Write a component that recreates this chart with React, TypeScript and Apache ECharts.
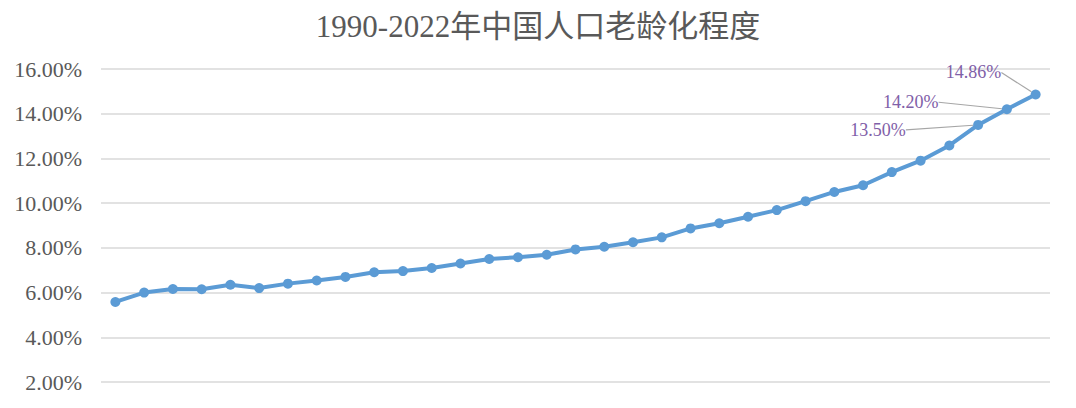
import React, { useEffect, useRef } from "react";
import * as echarts from "echarts";

const years: string[] = [
  "1990", "1991", "1992", "1993", "1994", "1995", "1996", "1997", "1998", "1999",
  "2000", "2001", "2002", "2003", "2004", "2005", "2006", "2007", "2008", "2009",
  "2010", "2011", "2012", "2013", "2014", "2015", "2016", "2017", "2018", "2019",
  "2020", "2021", "2022",
];

const agingRate: number[] = [
  5.58, 6.0, 6.16, 6.15, 6.35, 6.2, 6.4, 6.54, 6.7, 6.91,
  6.96, 7.1, 7.3, 7.5, 7.58, 7.69, 7.93, 8.05, 8.25, 8.47,
  8.87, 9.1, 9.39, 9.69, 10.09, 10.5, 10.8, 11.39, 11.9, 12.58,
  13.5, 14.2, 14.86,
];

const labeledIndices: number[] = [30, 31, 32];

const yTicks = { min: 2, max: 16, interval: 2 };

export default function App() {
  const ref = useRef<HTMLDivElement>(null);

  useEffect(() => {
    if (!ref.current) return;
    const chart = echarts.init(ref.current, null, { renderer: "svg" });
    const offsets: Record<number, [number, number]> = {
      30: [-100, 5],
      31: [-96, -7],
      32: [-62, -22],
    };
    chart.setOption({
      animation: false,
      backgroundColor: "#ffffff",
      title: {
        text: "1990-2022年中国人口老龄化程度",
        left: "center",
        top: 6,
        textStyle: {
          fontFamily: "'Liberation Serif', 'Noto Sans CJK SC', serif",
          fontSize: 31,
          fontWeight: "normal",
          color: "#595959",
        },
      },
      grid: { left: 101, right: 26, top: 69, bottom: 26, containLabel: false },
      xAxis: {
        type: "category",
        data: years,
        boundaryGap: true,
        axisLine: { show: false },
        axisTick: { show: false },
        axisLabel: { show: false },
      },
      yAxis: {
        type: "value",
        min: yTicks.min,
        max: yTicks.max,
        interval: yTicks.interval,
        axisLine: { show: false },
        axisTick: { show: false },
        axisLabel: {
          formatter: (v: number) => v.toFixed(2) + "%",
          fontFamily: "'Liberation Serif', serif",
          fontSize: 22,
          color: "#595959",
          margin: 19,
        },
        splitLine: { lineStyle: { color: "#D9D9D9", width: 1.5 } },
      },
      series: [
        {
          type: "line",
          data: agingRate.map((v, i) =>
            labeledIndices.includes(i)
              ? {
                  value: v,
                  label: {
                    show: true,
                    position: "inside",
                    formatter: (p: any) => Number(p.value).toFixed(2) + "%",
                    fontFamily: "'Liberation Serif', serif",
                    fontSize: 18,
                    color: "#7F60A8",
                  },
                  labelLine: {
                    show: true,
                    lineStyle: { color: "#A6A6A6", width: 1.2 },
                  },
                }
              : v
          ),
          symbol: "circle",
          symbolSize: 10,
          lineStyle: { color: "#5B9BD5", width: 4 },
          itemStyle: { color: "#5B9BD5" },
          labelLayout: (params: any) => {
            const o = offsets[params.dataIndex];
            if (!o) return {};
            return { dx: o[0], dy: o[1] };
          },
        },
      ],
    });
    return () => chart.dispose();
  }, []);

  return (
    <div
      ref={ref}
      style={{ position: "fixed", left: 0, top: 0, width: 1076, height: 408 }}
    />
  );
}
